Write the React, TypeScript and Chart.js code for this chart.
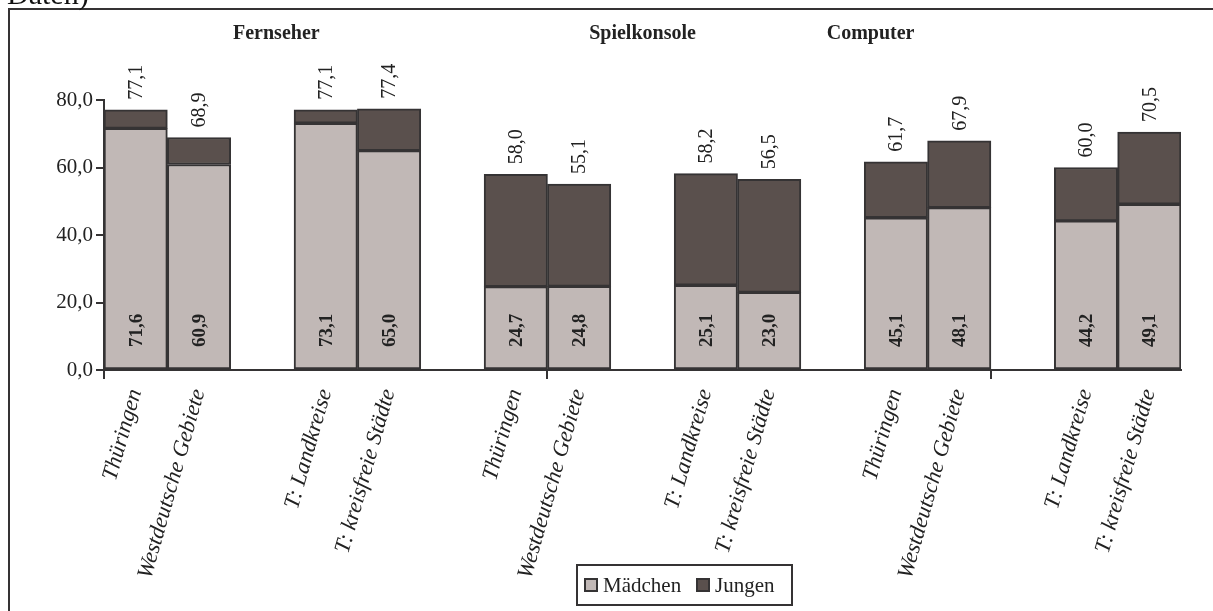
import React, { useEffect, useRef } from "react";
import { Chart, registerables } from "chart.js";

Chart.register(...registerables);

const categories = [
  "Thüringen", "Westdeutsche Gebiete", "", "T: Landkreise", "T: kreisfreie Städte", "",
  "Thüringen", "Westdeutsche Gebiete", "", "T: Landkreise", "T: kreisfreie Städte", "",
  "Thüringen", "Westdeutsche Gebiete", "", "T: Landkreise", "T: kreisfreie Städte",
];
const maedchen = [71.6, 60.9, null, 73.1, 65.0, null, 24.7, 24.8, null, 25.1, 23.0, null, 45.1, 48.1, null, 44.2, 49.1];
const jungen = [5.5, 8.0, null, 4.0, 12.4, null, 33.3, 30.3, null, 33.1, 33.5, null, 16.6, 19.8, null, 15.8, 21.4];
const totals = [77.1, 68.9, null, 77.1, 77.4, null, 58.0, 55.1, null, 58.2, 56.5, null, 61.7, 67.9, null, 60.0, 70.5];
const groupTitles = ["Fernseher", "Spielkonsole", "Computer"];
const groupTitlePos = [2.22, 8.0, 11.6];
const seriesNames = ["Mädchen", "Jungen"];
const yTicks = [0, 20, 40, 60, 80];

const FONT = "'Liberation Serif', 'Times New Roman', serif";
const C_M = "#c1b8b6";
const C_J = "#5a504d";
const C_LINE = "#353334";

const fmt = (v: number) => v.toFixed(1).replace(".", ",");

const decorPlugin = {
  id: "decor",
  beforeDraw(chart: any) {
    const ctx = chart.ctx;
    ctx.save();
    ctx.fillStyle = "#fff";
    ctx.fillRect(0, 0, chart.width, chart.height);
    ctx.strokeStyle = C_LINE;
    ctx.lineWidth = 2;
    ctx.strokeRect(9, 9, chart.width + 20, chart.height + 20);
    ctx.fillStyle = "#111";
    ctx.font = `30px ${FONT}`;
    ctx.textAlign = "left";
    ctx.textBaseline = "alphabetic";
    ctx.fillText("Daten)", 7, 4);
    ctx.restore();
  },
  afterDatasetsDraw(chart: any) {
    const ctx = chart.ctx;
    const xs = chart.scales.x;
    const ys = chart.scales.y;
    ctx.save();
    ctx.fillStyle = "#222";
    for (let i = 0; i < categories.length; i++) {
      const t = totals[i];
      const m = maedchen[i];
      if (t == null || m == null) continue;
      const x = xs.getPixelForValue(i);
      ctx.save();
      ctx.translate(x, ys.getPixelForValue(t) - 10);
      ctx.rotate(-Math.PI / 2);
      ctx.font = `20px ${FONT}`;
      ctx.textAlign = "left";
      ctx.textBaseline = "middle";
      ctx.fillText(fmt(t), 0, 1);
      ctx.restore();
      ctx.save();
      ctx.translate(x, ys.getPixelForValue(0) - 23);
      ctx.rotate(-Math.PI / 2);
      ctx.font = `bold 19px ${FONT}`;
      ctx.textAlign = "left";
      ctx.textBaseline = "middle";
      ctx.fillText(fmt(m), 0, 1);
      ctx.restore();
    }
    ctx.restore();
  },
  afterDraw(chart: any) {
    const ctx = chart.ctx;
    const xs = chart.scales.x;
    ctx.save();
    ctx.fillStyle = "#222";
    ctx.font = `bold 20px ${FONT}`;
    ctx.textAlign = "center";
    ctx.textBaseline = "alphabetic";
    groupTitles.forEach((g, k) => {
      ctx.fillText(g, xs.getPixelForValue(groupTitlePos[k]), 39);
    });
    const lx = 577, ly = 565, lw = 215, lh = 40;
    ctx.strokeStyle = C_LINE;
    ctx.lineWidth = 2;
    ctx.strokeRect(lx, ly, lw, lh);
    ctx.font = `21px ${FONT}`;
    ctx.textAlign = "left";
    const items = [
      { x: 585, color: C_M, name: seriesNames[0] },
      { x: 697, color: C_J, name: seriesNames[1] },
    ];
    items.forEach((it) => {
      ctx.fillStyle = it.color;
      ctx.fillRect(it.x, ly + 14, 12, 12);
      ctx.strokeRect(it.x, ly + 14, 12, 12);
      ctx.fillStyle = "#222";
      ctx.fillText(it.name, it.x + 18, ly + 27);
    });
    ctx.restore();
  },
};

export default function App() {
  const ref = useRef<HTMLCanvasElement>(null);
  useEffect(() => {
    if (!ref.current) return;
    const chart = new Chart(ref.current, {
      type: "bar",
      data: {
        labels: categories,
        datasets: [
          {
            label: seriesNames[0],
            data: maedchen as any,
            backgroundColor: C_M,
            borderColor: C_LINE,
            borderWidth: 2,
            borderSkipped: false,
          },
          {
            label: seriesNames[1],
            data: jungen as any,
            backgroundColor: C_J,
            borderColor: C_LINE,
            borderWidth: 2,
            borderSkipped: false,
          },
        ],
      },
      options: {
        animation: false,
        responsive: false,
        maintainAspectRatio: false,
        datasets: { bar: { barPercentage: 1, categoryPercentage: 1 } },
        layout: { padding: { top: 100, right: 32, left: 0, bottom: 0 } },
        plugins: {
          legend: { display: false },
          tooltip: { enabled: false },
          title: { display: false },
        },
        scales: {
          x: {
            stacked: true,
            offset: true,
            afterFit: (s: any) => {
              s.height = 241;
            },
            grid: {
              offset: true,
              drawOnChartArea: false,
              tickLength: 9,
              lineWidth: 2,
              color: (c: any) => (c.index % 7 === 0 ? C_LINE : "rgba(0,0,0,0)"),
            },
            border: { display: true, color: C_LINE, width: 2 },
            ticks: {
              autoSkip: false,
              minRotation: 74,
              maxRotation: 74,
              padding: 7,
              color: "#222",
              font: { family: FONT, size: 22.5, style: "italic" },
            },
          },
          y: {
            stacked: true,
            min: 0,
            max: 80,
            afterFit: (s: any) => {
              s.width = 104;
            },
            afterBuildTicks: (s: any) => {
              s.ticks = yTicks.map((v) => ({ value: v }));
            },
            grid: {
              drawOnChartArea: false,
              tickLength: 8,
              lineWidth: 2,
              color: C_LINE,
            },
            border: { display: true, color: C_LINE, width: 2 },
            ticks: {
              padding: 3,
              color: "#222",
              font: { family: FONT, size: 21 },
              callback: (v: any) => fmt(Number(v)),
            },
          },
        },
      },
      plugins: [decorPlugin],
    });
    return () => chart.destroy();
  }, []);
  return (
    <div style={{ position: "absolute", left: 0, top: 0, width: 1213, height: 611 }}>
      <canvas ref={ref} width={1213} height={611} style={{ display: "block" }} />
    </div>
  );
}
